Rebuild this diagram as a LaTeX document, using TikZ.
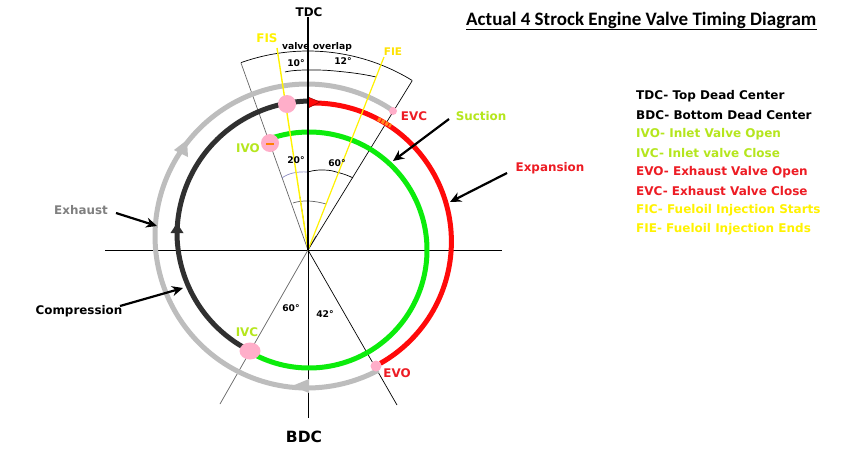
\documentclass[tikz,border=0pt]{standalone}
\usepackage{fontspec}
\setmainfont{DejaVu Sans}
\newfontfamily\calib{Carlito}
\usetikzlibrary{arrows.meta,shapes.geometric}
\definecolor{cgrey}{HTML}{BDBDBD}
\definecolor{cblack}{HTML}{303030}
\definecolor{cred}{HTML}{FF0A0A}
\definecolor{cgreen}{HTML}{0CEC0C}
\definecolor{lime}{HTML}{B5E61D}
\definecolor{tred}{HTML}{ED1C24}
\definecolor{tyellow}{HTML}{FFF200}
\definecolor{pinkdot}{HTML}{FFAEC9}
\tikzset{
 lab/.style={font=\bfseries\fontsize{11.9}{14}\selectfont,inner sep=0pt},
 small/.style={font=\bfseries\fontsize{9.2}{12}\selectfont,inner sep=0pt},
 legend/.style={font=\bfseries\fontsize{12}{14}\selectfont,inner sep=0pt,anchor=west},
 stroke/.style={line width=5pt,line cap=butt},
 pointer/.style={line width=2.2pt,black,-{Stealth[length=11pt,width=10pt]}},
 thin wedge/.style={line width=0.7pt,black},
 grey wedge/.style={line width=0.7pt,black!60},
 dotfill/.style={fill=pinkdot,draw=none,inner sep=0pt},
}
\begin{document}
\begin{tikzpicture}[x=1pt,y=-1pt]
\useasboundingbox[fill=white] (0,0) rectangle (858,453);
\coordinate (O) at (308,250);
\coordinate (wl) at (241,63);
\coordinate (wr) at (412,81);
\coordinate (ivcend) at (220,404);
\coordinate (evoend) at (397,405);
\coordinate (fisend) at (277,48);
\coordinate (fieend) at (384,57);
\coordinate (tdcend) at (308,17);
\coordinate (bdcend) at (308,418);
\coordinate (hl) at (105,250);
\coordinate (hr) at (502,250);
% axis and wedge lines
\draw[line width=0.8pt,black] (hl) -- (hr);
\draw[line width=0.8pt,black] (O) -- (bdcend);
\draw[grey wedge] (O) -- (wl);
\draw[grey wedge] (316,236) -- (ivcend);
\draw[thin wedge] (O) -- (wr);
\draw[thin wedge] (O) -- (evoend);
% sector arcs
\draw[thin wedge] plot[domain=-109.7:-58.4,samples=40] ({308+199*cos(\x)},{250+199*sin(\x)});
\draw[thin wedge] plot[smooth,tension=1] coordinates {(285,72) (308,70) (345,72) (376,77)};
\draw[line width=0.7pt,color=blue!30!gray!70] plot[smooth,tension=1] coordinates {(282,178) (293,173) (308,172)};
\draw[thin wedge] plot[smooth,tension=1] coordinates {(308,172) (323,170) (340,173) (353,178)};
\draw[grey wedge] plot[smooth,tension=1] coordinates {(293,203) (308,201) (326,204)};
% valve curves
\draw[stroke,cgrey] plot[domain=-298:-55.5,samples=120] ({307+152*cos(\x)},{236+152*sin(\x)});
\draw[stroke,cblack] plot[domain=118:270,samples=80] ({311+(134-0.05*max(0,180-\x))*cos(\x)},{235+(134-0.05*max(0,180-\x))*sin(\x)});
\draw[stroke,cred] plot[domain=-92:61,samples=80] ({312+(137+4*(\x+90)/150)*cos(\x)},{240+(137+4*(\x+90)/150)*sin(\x)});
\draw[stroke,cgreen] plot[domain=-110:120,samples=120] ({309+118*cos(\x)},{250+118*sin(\x)});
% flow markers
\fill[cblack] (177,223) -- (170.5,233) -- (183.5,233) -- cycle;
\fill[cgrey] (187,140) -- (174,150) -- (188,157) -- cycle;
\fill[cgrey] (292,386) -- (309,379) -- (309,393) -- cycle;
\fill[cred,draw=red!60!black,line width=0.5pt] (320,102) -- (308,97) -- (308,108) -- cycle;
% yellow lines and centre line
\draw[line width=0.6pt,black,dashed] (300,197) -- (O);
\draw[line width=1.4pt,color=yellow] (fisend) -- (O);
\draw[line width=1.2pt,color=yellow] (fieend) -- (O);
\draw[line width=1.6pt,black] (tdcend) -- (O);
% event dots
\node[dotfill,ellipse,minimum width=21pt,minimum height=17pt] (ivcdot) at (250,351) {};
\node[dotfill,circle,minimum size=11pt] (evodot) at (376,366) {};
\node[dotfill,circle,minimum size=8pt] (evcdot) at (393,111) {};
\node[dotfill,circle,minimum size=18pt] (ivodot) at (270,143) {};
\node[dotfill,circle,minimum size=18pt] (fisdot) at (287,104) {};
\draw[line width=1.5pt,color=orange] (266,144) -- (274,144);
\draw[line width=4pt,color=orange!85!pink,dash pattern=on 3pt off 1.2pt] (378,119) -- (391,126);
% pointers
\coordinate (sucs) at (449,119); \coordinate (suce) at (393,161);
\coordinate (exps) at (507,173); \coordinate (expe) at (450,202);
\coordinate (exhs) at (116,213); \coordinate (exhe) at (157,226);
\coordinate (coms) at (120,306); \coordinate (come) at (183,288);
\draw[pointer] (sucs) -- (suce);
\draw[pointer] (exps) -- (expe);
\draw[pointer] (exhs) -- (exhe);
\draw[pointer] (coms) -- (come);
% labels
\node[lab,black] (ltdc) at (309,12) {TDC};
\node[font=\bfseries\fontsize{15.5}{18}\selectfont,inner sep=0pt,black] (lbdc) at (304,437) {BDC};
\node[lab,tyellow] (lfis) at (267,38) {FIS};
\node[font=\bfseries\fontsize{10.5}{12}\selectfont,inner sep=0pt,color=yellow!85!orange] (lfie) at (393,52) {FIE};
\node[small,black] (lvo) at (317,47) {valve overlap};
\node[small,black] (l10) at (296,63) {10°};
\node[small,black] (l12) at (343,61) {12°};
\node[small,black] (l20) at (296,160) {20°};
\node[small,black] (l60a) at (337,163) {60°};
\node[small,black] (l60b) at (291,308) {60°};
\node[small,black] (l42) at (325,314) {42°};
\node[lab,lime] (livo) at (248,148) {IVO};
\node[lab,lime] (livc) at (247,332) {IVC};
\node[lab,tred] (levo) at (397,373) {EVO};
\node[lab,tred] (levc) at (414,116) {EVC};
\node[lab,lime] (lsuc) at (481,116) {Suction};
\node[lab,tred] (lexp) at (550,168) {Expansion};
\node[lab,color=black!50] (lexh) at (81,210) {Exhaust};
\node[lab,black] (lcom) at (79,311) {Compression};
% title
\node[font=\calib\bfseries\fontsize{19}{20}\selectfont,inner sep=0pt,anchor=west] (ttl) at (466,20) {Actual 4 Strock Engine Valve Timing Diagram};
\coordinate (ula) at (466,29.5); \coordinate (ulb) at (817,29.5);
\draw[line width=1.2pt,black] (ula) -- (ulb);
% legend
\node[legend,black] (k1) at (636,96) {TDC- Top Dead Center};
\node[legend,black] (k2) at (636,115) {BDC- Bottom Dead Center};
\node[legend,lime] (k3) at (636,134) {IVO- Inlet Valve Open};
\node[legend,lime] (k4) at (636,153) {IVC- Inlet valve Close};
\node[legend,tred] (k5) at (636,172) {EVO- Exhaust Valve Open};
\node[legend,tred] (k6) at (636,191) {EVC- Exhaust Valve Close};
\node[legend,tyellow] (k7) at (636,210) {FIC- Fueloil Injection Starts};
\node[legend,tyellow] (k8) at (636,229) {FIE- Fueloil Injection Ends};
\end{tikzpicture}
\end{document}
